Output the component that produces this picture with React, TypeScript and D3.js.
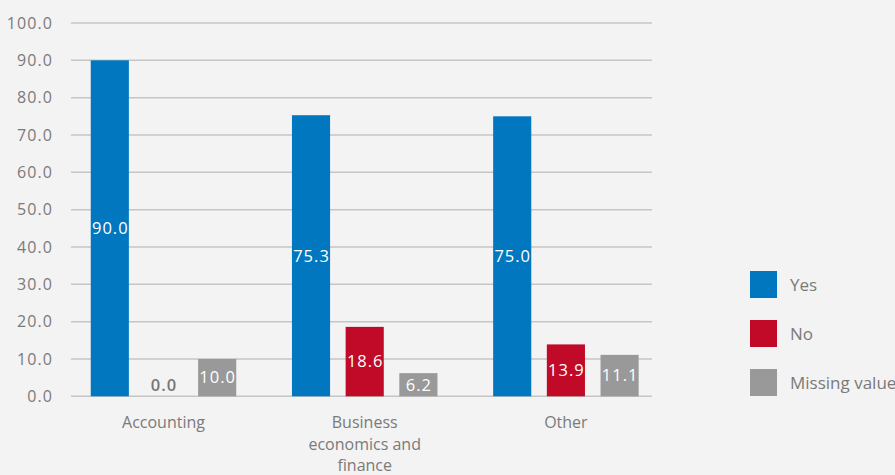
import React from "react";
import * as d3 from "d3";

const categories = ["Accounting", "Business economics and finance", "Other"];
const categoryLines = [["Accounting"], ["Business", "economics and", "finance"], ["Other"]];
const seriesNames = ["Yes", "No", "Missing value"];
const yesValues = [90.0, 75.3, 75.0];
const noValues = [0.0, 18.6, 13.9];
const missingValues = [10.0, 6.2, 11.1];
const yTicks = [0, 10, 20, 30, 40, 50, 60, 70, 80, 90, 100];
const colors = ["#0077bf", "#c10a27", "#999999"];

const W = 895;
const H = 475;
const FONT = "'Open Sans', sans-serif";
const TEXT = "#7a7a7a";

export default function App() {
  const series = [yesValues, noValues, missingValues];
  const y = d3.scaleLinear().domain([0, 100]).range([396.3, 23]);
  const x0 = d3.scaleBand<string>().domain(categories).range([62.9, 666.5]).padding(0);
  const x1 = d3.scaleBand<string>().domain(seriesNames).range([0, 145.5]).paddingInner(0.29).paddingOuter(0);
  const gridX1 = 71;
  const gridX2 = 652;

  return (
    <svg width={W} height={H} style={{ position: "absolute", left: 0, top: 0, background: "#f3f3f3" }} fontFamily={FONT}>
      <rect x={0} y={0} width={W} height={H} fill="#f3f3f3" />
      {yTicks.map((t) => (
        <g key={t}>
          <line x1={gridX1} x2={gridX2} y1={y(t)} y2={y(t)} stroke="#c6c6c6" strokeWidth={1.5} />
          <text x={53} y={y(t)} dy="0.35em" textAnchor="end" fontSize={16} letterSpacing={1.1} fill={TEXT}>
            {d3.format(".1f")(t)}
          </text>
        </g>
      ))}
      {categories.map((c, ci) => {
        const cx = (x0(c) as number) + x0.bandwidth() / 2;
        const gx = cx - 145.5 / 2;
        return (
          <g key={c}>
            {seriesNames.map((s, si) => {
              const v = series[si][ci];
              const bx = gx + (x1(s) as number);
              const top = y(v);
              const base = y(0);
              const mid = (top + base) / 2;
              const ly = Math.min(mid, base - 11);
              return (
                <g key={s}>
                  {v > 0 && <rect x={bx} y={top} width={x1.bandwidth()} height={base - top} fill={colors[si]} />}
                  <text
                    x={bx + x1.bandwidth() / 2 + 0.5}
                    y={ly}
                    dy="0.35em"
                    textAnchor="middle"
                    fontSize={16.5}
                    letterSpacing={1}
                    fill={v > 0 ? "#ffffff" : "#767676"}
                    fontWeight={v > 0 ? 500 : 600}
                  >
                    {d3.format(".1f")(v)}
                  </text>
                </g>
              );
            })}
            {categoryLines[ci].map((line, li) => (
              <text key={li} x={cx} y={422.5 + li * 21.5} dy="0.35em" textAnchor="middle" fontSize={16} fill={TEXT}>
                {line}
              </text>
            ))}
          </g>
        );
      })}
      {seriesNames.map((s, si) => (
        <g key={s}>
          <rect x={750} y={271 + si * 49} width={27} height={27} fill={colors[si]} />
          <text x={790} y={285 + si * 49} dy="0.35em" fontSize={17} fill={TEXT}>
            {s}
          </text>
        </g>
      ))}
    </svg>
  );
}
